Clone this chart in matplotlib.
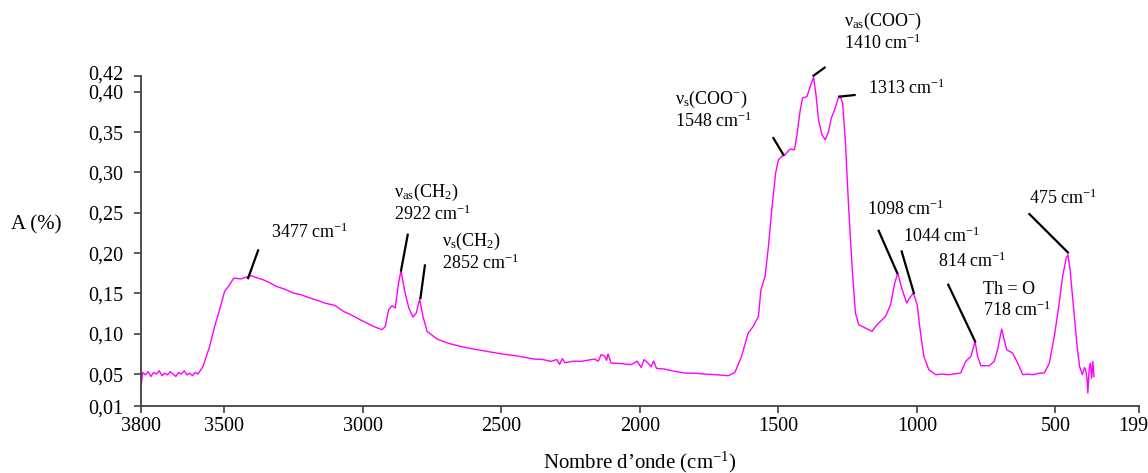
import matplotlib
matplotlib.use('Agg')
import matplotlib.pyplot as plt
import matplotlib.transforms as mtransforms

plt.rcParams['font.family'] = ['Liberation Serif', 'DejaVu Serif']
plt.rcParams['mathtext.fontset'] = 'custom'
plt.rcParams['mathtext.rm'] = 'Liberation Serif'
plt.rcParams['mathtext.it'] = 'Liberation Serif:italic'

# spectrum (wavenumber cm-1, absorbance)
wavenumber = [
    3800, 3795, 3785, 3775, 3765, 3755, 3745, 3735, 3725, 3715, 3705, 3695,
    3685, 3675, 3665, 3655, 3645, 3635, 3625, 3615, 3605, 3595,
    3577, 3565, 3553, 3535, 3517, 3507, 3499, 3481, 3466, 3440, 3414, 3402,
    3380, 3360, 3335, 3312, 3280, 3251, 3220, 3191, 3160, 3137, 3100, 3070,
    3040, 3010, 2961, 2931, 2919, 2907, 2895, 2883, 2871, 2862, 2850, 2834,
    2819, 2807, 2795, 2783, 2768, 2732, 2690, 2647, 2600, 2551, 2500, 2448,
    2420, 2382, 2350, 2321, 2300, 2290, 2280, 2270, 2240, 2213, 2190, 2164,
    2150, 2140, 2128, 2120, 2115, 2104, 2070, 2032, 2010, 1995, 1985, 1971,
    1960, 1950, 1940, 1911, 1870, 1838, 1800, 1766, 1720, 1681, 1657, 1633,
    1609, 1591, 1572, 1563, 1548, 1536, 1524, 1510, 1500, 1488, 1476, 1458,
    1442, 1434, 1421, 1413, 1397, 1385, 1373, 1365, 1355, 1343, 1331, 1319,
    1309, 1297, 1285, 1277, 1268, 1258, 1246, 1234, 1222, 1210, 1186, 1162,
    1144, 1113, 1095, 1080, 1069, 1055, 1037, 1026, 1013, 999, 987, 975,
    957, 932, 910, 884, 842, 824, 805, 790, 781, 769, 739, 721, 709, 694,
    685, 676, 655, 636, 618, 600, 582, 560, 540, 522, 504, 488, 474, 461,
    455, 447, 435, 423, 413, 403, 395, 391, 386, 383, 378, 374, 369, 365, 361,
]
absorbance = [
    0.036, 0.052, 0.049, 0.053, 0.047, 0.052, 0.050, 0.054, 0.048, 0.051, 0.049, 0.053,
    0.050, 0.047, 0.052, 0.050, 0.054, 0.049, 0.051, 0.048, 0.052, 0.050,
    0.0595, 0.0719, 0.0843, 0.109, 0.1298, 0.1422, 0.1524, 0.1607, 0.169, 0.168, 0.171, 0.1719,
    0.169, 0.167, 0.163, 0.1587, 0.155, 0.1505, 0.148, 0.1443, 0.141, 0.138, 0.135, 0.1277,
    0.123, 0.1174, 0.109, 0.105, 0.109, 0.1298, 0.1347, 0.1319, 0.1629, 0.1785, 0.1545, 0.1319,
    0.1207, 0.1257, 0.143, 0.1214, 0.1029, 0.0934, 0.088, 0.0843, 0.081, 0.0781, 0.075, 0.0727,
    0.071, 0.0686, 0.068, 0.0657, 0.068, 0.062, 0.069, 0.064, 0.066, 0.0657, 0.067, 0.0686,
    0.066, 0.074, 0.0727, 0.067, 0.075, 0.0637, 0.063, 0.0616, 0.066, 0.058, 0.068, 0.0637,
    0.059, 0.066, 0.057, 0.0562, 0.053, 0.0513, 0.051, 0.050, 0.049, 0.0479, 0.052, 0.0719,
    0.1009, 0.109, 0.1215, 0.1545, 0.171, 0.2082, 0.2537, 0.2992, 0.3157, 0.3198, 0.3219, 0.329,
    0.3281, 0.3446, 0.3777, 0.3922, 0.3942, 0.4066, 0.418, 0.3984, 0.3653, 0.3467, 0.3405, 0.3508,
    0.3674, 0.3777, 0.391, 0.395, 0.386, 0.3364, 0.2537, 0.1834, 0.1257, 0.1112, 0.1071, 0.1029,
    0.1112, 0.1215, 0.136, 0.1629, 0.1752, 0.1567, 0.1381, 0.1443, 0.1505, 0.136, 0.1009, 0.0719,
    0.0554, 0.0492, 0.050, 0.0492, 0.0513, 0.0657, 0.0719, 0.0905, 0.0719, 0.0603, 0.0603, 0.0657, 0.0802, 0.1058,
    0.0926, 0.0802, 0.0761, 0.0637, 0.0492, 0.050, 0.0492, 0.051, 0.0513, 0.0637, 0.0967, 0.1338, 0.171, 0.1938,
    0.198, 0.1793, 0.1338, 0.0885, 0.0595, 0.0492, 0.058, 0.0554, 0.045, 0.0265, 0.058, 0.0637, 0.045, 0.0657, 0.047,
]

# peak annotations: text lines, text anchor, leader line (peak end, label end)
labels = [
    ['3477 cm$^{-1}$'],
    [r'ν$_{\rm as}$(CH$_{2}$)', '2922 cm$^{-1}$'],
    [r'ν$_{\rm s}$(CH$_{2}$)', '2852 cm$^{-1}$'],
    [r'ν$_{\rm s}$(COO$^{-}$)', '1548 cm$^{-1}$'],
    [r'ν$_{\rm as}$(COO$^{-}$)', '1410 cm$^{-1}$'],
    ['1313 cm$^{-1}$'],
    ['1098 cm$^{-1}$'],
    ['1044 cm$^{-1}$'],
    ['814 cm$^{-1}$'],
    ['Th = O', '718 cm$^{-1}$'],
    ['475 cm$^{-1}$'],
]
label_x = [3333, 2889, 2714, 1874, 1264, 1178, 1180, 1050, 923, 763, 594]
label_y = [0.2252, 0.2748, 0.2144, 0.390, 0.4871, 0.4046, 0.2537, 0.2206, 0.1896, 0.1554, 0.2682]
line_x0 = [3414, 2862, 2792, 1482, 1373, 1280, 1071, 1011, 790, None, 455]
line_y0 = [0.169, 0.1785, 0.1443, 0.322, 0.420, 0.394, 0.1752, 0.1505, 0.0905, None, 0.2008]
line_x1 = [3378, 2838, 2776, 1518, 1333, 1225, 1138, 1055, 887, None, 594]
line_y1 = [0.2033, 0.2227, 0.1847, 0.3426, 0.430, 0.396, 0.2277, 0.202, 0.1608, None, 0.2484]

x_ticks = [3800, 3500, 3000, 2500, 2000, 1500, 1000, 500, 199]
y_ticks = [0.01, 0.05, 0.10, 0.15, 0.20, 0.25, 0.30, 0.35, 0.40, 0.42]


def main():
    fig = plt.figure(figsize=(11.48, 4.73), dpi=100)
    ax = fig.add_axes([0.123, 0.141, 0.869, 0.699])

    ax.plot(wavenumber, absorbance, color='#ff00ff', lw=1.0)

    for i, lines in enumerate(labels):
        if line_x0[i] is not None:
            ax.plot([line_x0[i], line_x1[i]], [line_y0[i], line_y1[i]],
                    color='black', lw=1.6, clip_on=False)
        step = 0.0265
        for j, t in enumerate(lines):
            ax.text(label_x[i], label_y[i] - j * step, t, fontsize=13,
                    ha='left', va='center')

    ax.set_xlim(3800, 199)
    ax.set_ylim(0.01, 0.42)
    ax.set_xticks(x_ticks)
    ax.set_xticklabels([str(v) for v in x_ticks])
    ax.set_yticks(y_ticks)
    ax.set_yticklabels([f'{v:.2f}'.replace('.', ',') for v in y_ticks])
    ax.tick_params(labelsize=14.5, colors='black', length=5, width=1.2,
                   direction='out')
    ax.tick_params(axis='x', color='#404040', pad=3)
    ax.tick_params(axis='y', color='#404040', pad=8)

    # nudge crowded end labels like the original
    last_x = ax.get_xticklabels()[-1]
    last_x.set_transform(last_x.get_transform() + mtransforms.ScaledTranslation(
        -6 / 100, 0, fig.dpi_scale_trans))
    top_y = ax.get_yticklabels()[-1]
    top_y.set_transform(top_y.get_transform() + mtransforms.ScaledTranslation(
        0, 3 / 100, fig.dpi_scale_trans))

    for side in ['top', 'right']:
        ax.spines[side].set_visible(False)
    for side in ['left', 'bottom']:
        ax.spines[side].set_color('#404040')
        ax.spines[side].set_linewidth(1.3)

    fig.text(0.557, 0.022, "Nombre d\u2019onde (cm$^{-1}$)", fontsize=15,
             ha='center', va='center')
    fig.text(0.01, 0.525, 'A (%)', fontsize=15, ha='left', va='center')

    fig.savefig('out.png', dpi=100)


if __name__ == '__main__':
    main()
